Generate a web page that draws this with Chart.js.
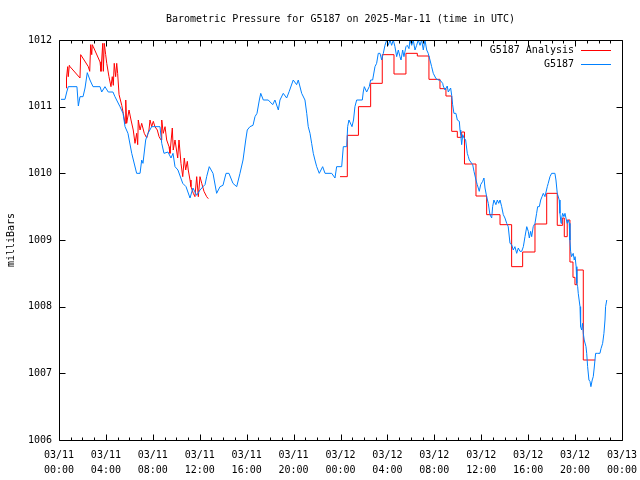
<!DOCTYPE html>
<html>
<head>
<meta charset="utf-8">
<script src="https://cdn.jsdelivr.net/npm/chart.js@4.4.1/dist/chart.umd.min.js"></script>
<style>
  html, body { margin: 0; padding: 0; background: #ffffff; }
</style>
</head>
<body>
<canvas id="pressureChart" width="640" height="480"></canvas>
<script>
// hours since 03/11 00:00 UTC
const stationHours = [0.17,0.51,0.66,0.79,1.11,1.53,1.65,1.79,2.05,2.22,2.41,2.64,2.90,3.50,3.64,3.92,4.20,4.60,4.77,5.20,
  5.46,5.63,5.88,6.20,6.62,6.91,7.05,7.16,7.39,7.59,7.90,8.61,8.76,8.95,9.29,9.55,9.72,9.89,10.14,10.55,
  10.83,11.17,11.42,11.74,12.02,12.28,12.45,12.59,12.81,13.13,13.44,13.73,13.98,14.24,14.49,14.83,15.15,15.43,15.69,15.92,
  16.05,16.28,16.54,16.71,16.88,17.08,17.20,17.42,17.84,18.22,18.41,18.70,18.84,19.12,19.41,19.63,19.97,20.26,20.40,20.69,
  20.97,21.12,21.25,21.40,21.54,21.68,21.82,21.97,22.19,22.48,22.68,23.25,23.53,23.67,24.10,24.24,24.53,24.61,24.72,24.98,
  25.11,25.23,25.38,25.86,25.94,26.03,26.23,26.45,26.57,26.74,26.94,27.08,27.22,27.37,27.51,27.65,27.79,27.94,28.07,28.22,
  28.36,28.50,28.64,28.79,28.93,29.07,29.16,29.30,29.41,29.58,29.69,29.84,29.92,30.07,30.20,30.35,30.49,30.63,30.78,30.92,
  31.06,31.20,31.35,31.48,31.63,31.77,31.91,32.14,32.34,32.48,32.71,32.76,32.91,33.10,33.19,33.39,33.48,33.56,33.67,33.84,
  33.96,34.13,34.19,34.25,34.33,34.42,34.53,34.67,34.81,34.90,34.98,35.10,35.27,35.38,35.55,35.66,35.83,35.95,36.12,36.23,
  36.32,36.46,36.60,36.74,36.89,36.97,37.08,37.25,37.37,37.49,37.60,37.74,37.88,38.02,38.17,38.30,38.45,38.59,38.73,38.87,
  39.02,39.16,39.30,39.45,39.59,39.73,39.88,40.01,40.10,40.21,40.30,40.43,40.58,40.72,40.81,40.95,41.07,41.18,41.29,41.43,
  41.63,41.71,41.86,42.00,42.28,42.37,42.48,42.65,42.71,42.80,42.86,42.94,43.05,43.14,43.22,43.33,43.42,43.50,43.56,43.62,
  43.70,43.84,43.93,44.00,44.09,44.15,44.22,44.27,44.42,44.47,44.56,44.64,44.70,44.78,44.93,44.99,45.07,45.18,45.27,45.35,
  45.46,45.55,45.63,45.75,45.89,46.12,46.21,46.35,46.46,46.55,46.60,46.70];
const stationMbar = [1011.11,1011.11,1011.22,1011.30,1011.30,1011.30,1011.01,1011.15,1011.15,1011.28,1011.51,1011.40,1011.30,1011.30,1011.22,1011.30,1011.22,1011.22,1011.15,1011.00,
  1010.90,1010.70,1010.60,1010.30,1010.00,1010.00,1010.20,1010.15,1010.50,1010.60,1010.70,1010.70,1010.45,1010.30,1010.32,1010.23,1010.30,1010.10,1010.05,1009.85,
  1009.80,1009.63,1009.78,1009.67,1009.75,1009.80,1009.83,1009.95,1010.10,1010.00,1009.70,1009.80,1009.82,1010.00,1010.00,1009.85,1009.80,1010.00,1010.20,1010.50,
  1010.65,1010.70,1010.72,1010.85,1010.90,1011.10,1011.20,1011.10,1011.10,1011.03,1011.10,1010.95,1011.10,1011.20,1011.13,1011.23,1011.40,1011.33,1011.40,1011.20,
  1011.10,1010.90,1010.70,1010.60,1010.45,1010.30,1010.20,1010.10,1010.00,1010.10,1010.00,1010.00,1009.93,1010.10,1010.10,1010.40,1010.40,1010.70,1010.80,1010.70,
  1010.80,1011.00,1011.10,1011.10,1011.22,1011.30,1011.22,1011.30,1011.40,1011.40,1011.60,1011.65,1011.80,1011.80,1011.70,1011.80,1011.92,1012.00,1011.92,1012.00,
  1011.92,1012.00,1011.90,1011.75,1011.85,1011.75,1011.70,1011.85,1011.75,1011.90,1011.92,1011.87,1012.00,1011.92,1012.00,1011.85,1011.92,1012.00,1011.92,1012.00,
  1011.85,1012.00,1011.85,1011.80,1011.70,1011.60,1011.50,1011.42,1011.40,1011.40,1011.35,1011.31,1011.25,1011.31,1011.22,1011.28,1011.17,1011.03,1010.90,1010.90,
  1010.80,1010.78,1010.65,1010.58,1010.43,1010.58,1010.53,1010.50,1010.30,1010.25,1010.20,1010.17,1010.13,1010.03,1009.90,1009.83,1009.73,1009.83,1009.88,1009.93,
  1009.78,1009.65,1009.55,1009.38,1009.33,1009.50,1009.60,1009.53,1009.60,1009.55,1009.60,1009.50,1009.38,1009.33,1009.25,1009.20,1008.95,1008.93,1008.85,1008.90,
  1008.80,1008.88,1008.83,1008.83,1008.90,1009.05,1009.20,1009.13,1009.03,1009.13,1009.05,1009.20,1009.25,1009.40,1009.50,1009.50,1009.60,1009.65,1009.70,1009.65,
  1009.80,1009.85,1009.95,1010.00,1010.00,1009.90,1009.70,1009.60,1009.40,1009.25,1009.33,1009.40,1009.35,1009.40,1009.33,1009.25,1009.30,1009.25,1009.00,1008.83,
  1008.75,1008.80,1008.70,1008.75,1008.60,1008.35,1008.30,1008.20,1008.00,1007.70,1007.65,1007.75,1007.60,1007.50,1007.40,1007.30,1007.10,1006.90,1006.88,1006.80,
  1006.90,1006.95,1007.08,1007.30,1007.30,1007.30,1007.37,1007.45,1007.60,1007.80,1008.00,1008.10];

// analysis, first block (03/11 morning)
const analysisHoursA = [0.60,0.64,0.74,0.79,0.88,0.94,1.79,1.85,2.50,2.62,2.70,2.79,2.84,2.92,3.50,3.58,3.73,3.78,3.86,3.98,
  4.07,4.26,4.43,4.54,4.63,4.71,4.83,4.92,5.00,5.12,5.35,5.48,5.63,5.69,5.77,5.97,6.14,6.33,6.48,6.62,
  6.71,6.76,6.91,7.05,7.27,7.48,7.67,7.76,7.90,8.04,8.18,8.38,8.53,8.70,8.76,8.89,9.04,9.18,9.38,9.46,
  9.66,9.74,9.89,10.12,10.23,10.40,10.55,10.68,10.80,10.94,11.02,11.17,11.25,11.45,11.59,11.74,11.88,12.02,12.17,12.36,
  12.59,12.73];
const analysisMbarA = [1011.28,1011.43,1011.60,1011.45,1011.62,1011.60,1011.43,1011.78,1011.60,1011.53,1011.93,1011.78,1011.93,1011.90,1011.67,1011.53,1011.95,1011.53,1011.95,1011.78,
  1011.65,1011.45,1011.30,1011.45,1011.32,1011.65,1011.45,1011.65,1011.50,1011.18,1011.02,1010.90,1010.75,1011.10,1010.75,1010.95,1010.80,1010.65,1010.45,1010.60,
  1010.43,1010.80,1010.65,1010.75,1010.60,1010.53,1010.65,1010.80,1010.70,1010.78,1010.70,1010.65,1010.55,1010.50,1010.80,1010.60,1010.70,1010.50,1010.40,1010.30,
  1010.68,1010.35,1010.50,1010.23,1010.50,1010.15,1009.95,1010.23,1010.05,1010.18,1010.05,1009.90,1009.80,1009.70,1009.65,1009.95,1009.65,1009.95,1009.85,1009.73,
  1009.65,1009.62];

// analysis, second block (held values from 03/12 00:00)
const analysisHoursB = [23.96,24.58,25.53,26.57,27.56,28.56,29.58,30.55,31.54,32.48,32.99,33.48,33.96,34.33,34.57,35.55,36.46,37.60,38.59,39.53,
  40.58,41.58,42.48,42.94,43.08,43.33,43.56,43.82,43.99,44.15,44.70,45.72];
const analysisMbarB = [1009.95,1010.57,1011.00,1011.35,1011.78,1011.49,1011.80,1011.76,1011.41,1011.27,1011.16,1010.63,1010.54,1010.62,1010.14,1009.66,1009.38,1009.23,1008.60,1008.82,
  1009.24,1009.70,1009.22,1009.33,1009.05,1009.30,1008.67,1008.44,1008.33,1008.55,1007.20,1007.20];

const xTickLabels = [['03/11','00:00'],['03/11','04:00'],['03/11','08:00'],['03/11','12:00'],['03/11','16:00'],['03/11','20:00'],
  ['03/12','00:00'],['03/12','04:00'],['03/12','08:00'],['03/12','12:00'],['03/12','16:00'],['03/12','20:00'],['03/13','00:00']];

const titleText = 'Barometric Pressure for G5187 on 2025-Mar-11 (time in UTC)';
const yAxisTitle = 'milliBars';
const legendItems = [
    { label: 'G5187 Analysis', color: '#ff0000' },
    { label: 'G5187', color: '#0080ff' }
];

const monoFont = '"DejaVu Sans Mono", "Liberation Mono", monospace';

function toPoints(xs, ys) {
    return xs.map(function (x, i) { return { x: x, y: ys[i] }; });
}

// gnuplot-like frame: border, inward ticks, title, y label and legend
const gnuplotFrame = {
    id: 'gnuplotFrame',
    afterDatasetsDraw: (chart) => {
        const {ctx, chartArea} = chart;
        const xs = chart.scales.x, ys = chart.scales.y;
        const l = Math.round(chartArea.left) + 0.5, r = Math.round(chartArea.right) + 0.5;
        const t = Math.round(chartArea.top) + 0.5, b = Math.round(chartArea.bottom) + 0.5;
        ctx.save();
        ctx.strokeStyle = '#000';
        ctx.lineWidth = 1;
        ctx.beginPath();
        ctx.rect(l, t, r - l, b - t);
        // hourly ticks, longer at every 4 hours
        for (let h = 0; h <= 48; h++) {
            const px = Math.round(xs.getPixelForValue(h)) + 0.5;
            const len = h % 4 === 0 ? 6 : 3;
            ctx.moveTo(px, b); ctx.lineTo(px, b - len);
            ctx.moveTo(px, t); ctx.lineTo(px, t + len);
        }
        for (let v = 1006; v <= 1012; v++) {
            const py = Math.round(ys.getPixelForValue(v)) + 0.5;
            ctx.moveTo(l, py); ctx.lineTo(l + 6, py);
            ctx.moveTo(r, py); ctx.lineTo(r - 6, py);
        }
        ctx.stroke();

        ctx.fillStyle = '#000';
        ctx.font = '10px ' + monoFont;
        ctx.textBaseline = 'middle';
        ctx.textAlign = 'center';
        ctx.fillText(titleText, (chartArea.left + chartArea.right) / 2, 19);

        ctx.save();
        ctx.translate(11, (chartArea.top + chartArea.bottom) / 2);
        ctx.rotate(-Math.PI / 2);
        ctx.fillText(yAxisTitle, 0, 0);
        ctx.restore();

        ctx.textAlign = 'right';
        legendItems.forEach(function (item, i) {
            const y = 50 + i * 14;
            ctx.fillStyle = '#000';
            ctx.fillText(item.label, 574, y);
            ctx.strokeStyle = item.color;
            ctx.beginPath();
            ctx.moveTo(581, Math.round(y) + 0.5);
            ctx.lineTo(611, Math.round(y) + 0.5);
            ctx.stroke();
        });
        ctx.restore();
    }
};

const lineStyle = { borderWidth: 1, pointRadius: 0, tension: 0, fill: false };

new Chart(document.getElementById('pressureChart').getContext('2d'), {
    type: 'line',
    data: {
        datasets: [
            Object.assign({ label: 'G5187 Analysis', data: toPoints(analysisHoursA, analysisMbarA), borderColor: '#ff0000', order: 1 }, lineStyle),
            Object.assign({ label: 'G5187 Analysis', data: toPoints(analysisHoursB, analysisMbarB), borderColor: '#ff0000', stepped: 'before', order: 1 }, lineStyle),
            Object.assign({ label: 'G5187', data: toPoints(stationHours, stationMbar), borderColor: '#0080ff', order: 0 }, lineStyle)
        ]
    },
    options: {
        responsive: false,
        animation: false,
        layout: { padding: { left: 0, right: 18, top: 40, bottom: 0 } },
        scales: {
            x: {
                type: 'linear',
                min: 0,
                max: 48,
                afterFit: (scale) => { scale.height = 40; scale.paddingLeft = 0; scale.paddingRight = 0; },
                grid: { display: false, drawTicks: false },
                border: { display: false },
                ticks: {
                    stepSize: 4,
                    autoSkip: false,
                    maxRotation: 0,
                    padding: 8,
                    color: '#000',
                    font: { family: monoFont, size: 10, lineHeight: 1.5 },
                    callback: (value) => xTickLabels[Math.round(value / 4)]
                }
            },
            y: {
                min: 1006,
                max: 1012,
                afterFit: (scale) => { scale.width = 59; scale.paddingTop = 0; scale.paddingBottom = 0; },
                grid: { display: false, drawTicks: false },
                border: { display: false },
                ticks: {
                    stepSize: 1,
                    padding: 7,
                    color: '#000',
                    font: { family: monoFont, size: 10 },
                    callback: (value) => String(value)
                }
            }
        },
        plugins: {
            legend: { display: false },
            tooltip: { enabled: false }
        }
    },
    plugins: [gnuplotFrame]
});
</script>
</body>
</html>
